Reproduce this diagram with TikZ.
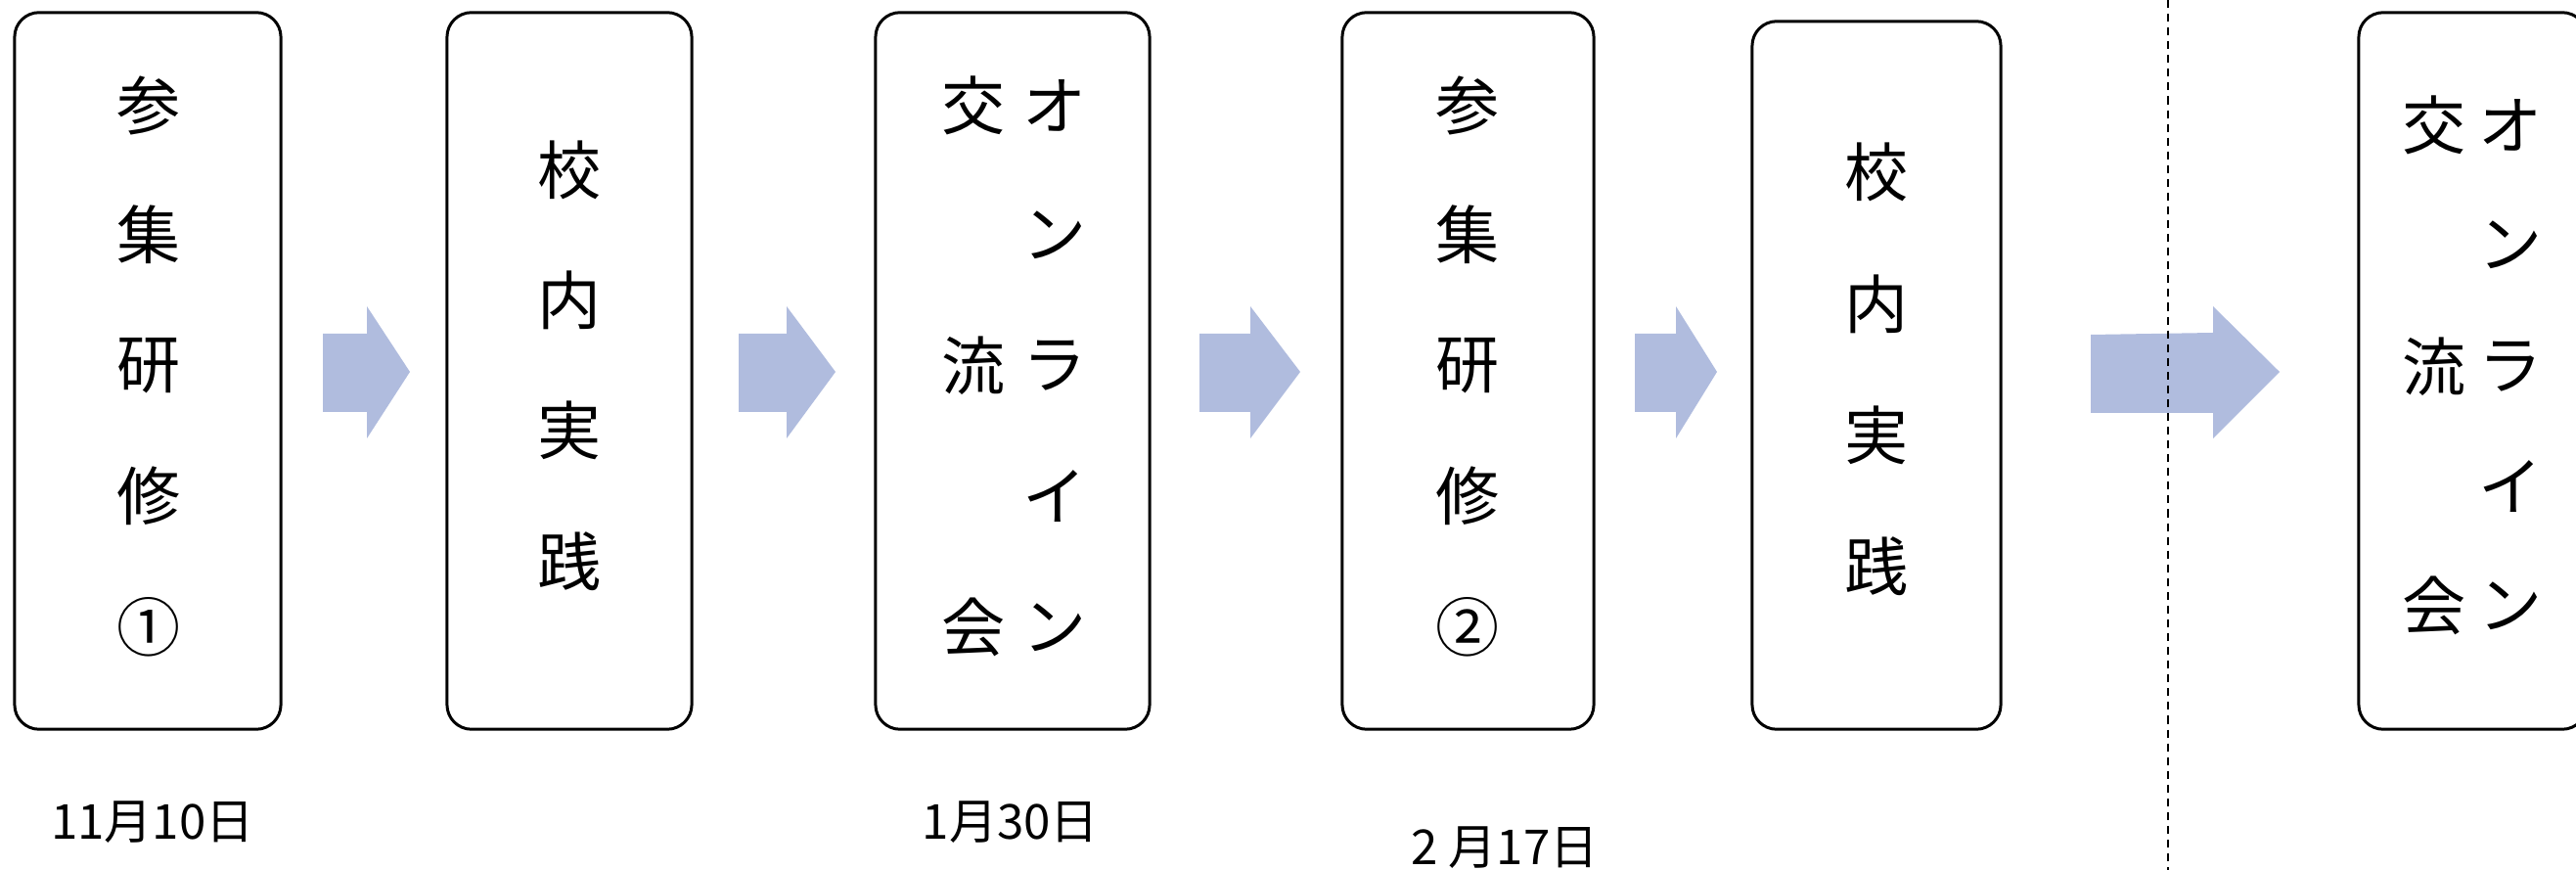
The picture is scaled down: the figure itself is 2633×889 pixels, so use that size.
\documentclass[tikz,border=0pt]{standalone}
\usepackage{fontspec}
\newfontfamily\jpfont{Noto Sans CJK JP}
\definecolor{arrowblue}{RGB}{176,188,222}
\tikzset{
  stagebox/.style={draw=black, line width=0.85pt, rounded corners=0.25cm, fill=white, inner sep=0pt},
  ch/.style={font=\jpfont\fontsize{18.5}{18.5}\selectfont, inner sep=0pt, anchor=center},
  datelabel/.style={font=\jpfont\fontsize{14}{14}\selectfont, inner sep=0pt, anchor=center},
  blockarrow/.style={fill=arrowblue, draw=none},
  divider/.style={draw=black, line width=0.6pt, dash pattern=on 2.3pt off 1.7pt}
}
\begin{document}
\begin{tikzpicture}[x=0.01cm,y=-0.01cm]
\useasboundingbox (0,0) rectangle (2633,889);
% boxes
\node[stagebox, minimum width=2.72cm, minimum height=7.32cm] (b1) at (151,379) {};
\node[stagebox, minimum width=2.50cm, minimum height=7.32cm] (b2) at (582,379) {};
\node[stagebox, minimum width=2.80cm, minimum height=7.32cm] (b3) at (1035,379) {};
\node[stagebox, minimum width=2.57cm, minimum height=7.32cm] (b4) at (1500.5,379) {};
\node[stagebox, minimum width=2.54cm, minimum height=7.23cm] (b5) at (1918,383.5) {};
\node[stagebox, minimum width=2.33cm, minimum height=7.32cm] (b6) at (2527.5,379) {};
% block arrows
\fill[blockarrow] (330,341) -- (375,341) -- (375,313) -- (419,380) -- (375,448) -- (375,421) -- (330,421) -- cycle;
\fill[blockarrow] (755,341) -- (804,341) -- (804,313) -- (854,380) -- (804,448) -- (804,421) -- (755,421) -- cycle;
\fill[blockarrow] (1226,341) -- (1278,341) -- (1278,313) -- (1329,380) -- (1278,448) -- (1278,421) -- (1226,421) -- cycle;
\fill[blockarrow] (1671,341) -- (1713,341) -- (1713,313) -- (1755,380) -- (1713,448) -- (1713,421) -- (1671,421) -- cycle;
\fill[blockarrow] (2137,342) -- (2262,340) -- (2262,313) -- (2330,380) -- (2262,448) -- (2262,422) -- (2137,422) -- cycle;
% divider
\coordinate (dtop) at (2216,0);
\coordinate (dbot) at (2216,889);
\draw[divider] (dtop) -- (dbot);
% box 1
\node[ch] (t1a) at (152,108) {参};
\node[ch] (t1b) at (152,240) {集};
\node[ch] (t1c) at (152,374) {研};
\node[ch] (t1d) at (152,507) {修};
\node[ch] (t1e) at (152,641) {①};
% box 2
\node[ch] (t2a) at (582,174) {校};
\node[ch] (t2b) at (582,307) {内};
\node[ch] (t2c) at (582,440) {実};
\node[ch] (t2d) at (582,574) {践};
% box 3
\node[ch] (t3a) at (995,108) {交};
\node[ch] (t3b) at (1078,108) {オ};
\node[ch] (t3c) at (1078,240) {ン};
\node[ch] (t3d) at (995,374) {流};
\node[ch] (t3e) at (1078,374) {ラ};
\node[ch] (t3f) at (1078,507) {イ};
\node[ch] (t3g) at (995,641) {会};
\node[ch] (t3h) at (1078,641) {ン};
% box 4
\node[ch] (t4a) at (1500,108) {参};
\node[ch] (t4b) at (1500,240) {集};
\node[ch] (t4c) at (1500,374) {研};
\node[ch] (t4d) at (1500,507) {修};
\node[ch] (t4e) at (1500,641) {②};
% box 5
\node[ch] (t5a) at (1918,176) {校};
\node[ch] (t5b) at (1918,311) {内};
\node[ch] (t5c) at (1918,445) {実};
\node[ch] (t5d) at (1918,579) {践};
% box 6
\node[ch] (t6a) at (2488,128) {交};
\node[ch] (t6b) at (2566,128) {オ};
\node[ch] (t6c) at (2566,250) {ン};
\node[ch] (t6d) at (2488,375) {流};
\node[ch] (t6e) at (2566,375) {ラ};
\node[ch] (t6f) at (2566,497) {イ};
\node[ch] (t6g) at (2488,619) {会};
\node[ch] (t6h) at (2566,619) {ン};
% dates
\node[datelabel] (d1) at (156,840) {11月10日};
\node[datelabel] (d2) at (1033,840) {1月30日};
\node[datelabel] (d3) at (1538,866) {2 月17日};
\end{tikzpicture}
\end{document}
